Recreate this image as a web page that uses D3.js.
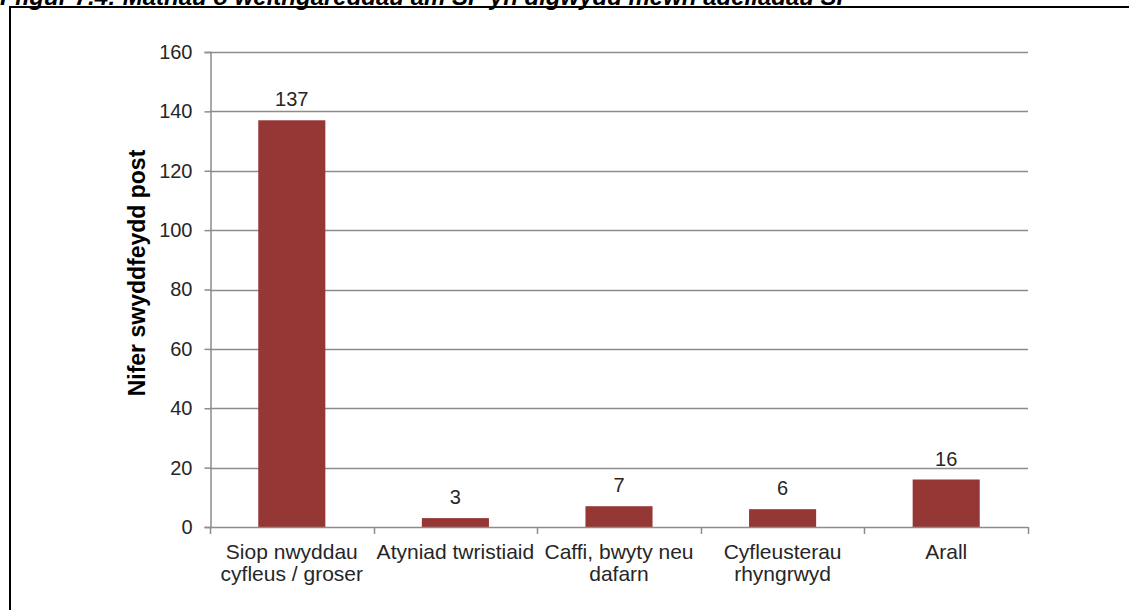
<!DOCTYPE html>
<html>
<head>
<meta charset="utf-8">
<script src="https://cdn.jsdelivr.net/npm/d3@7"></script>
<style>
  html, body { margin: 0; padding: 0; background: #fff; overflow: hidden; }
  svg { display: block; }
  text { font-family: "Liberation Sans", Arial, sans-serif; }
</style>
</head>
<body>
<svg id="chart" width="1129" height="610"></svg>
<script>
// ---- data ----
const titleText = "Ffigur 7.4: Mathau o weithgareddau am SP yn digwydd mewn adeiladau SP";
const yAxisTitle = "Nifer swyddfeydd post";
const categories = [
  ["Siop nwyddau", "cyfleus / groser"],
  ["Atyniad twristiaid"],
  ["Caffi, bwyty neu", "dafarn"],
  ["Cyfleusterau", "rhyngrwyd"],
  ["Arall"]
];
const values = [137, 3, 7, 6, 16];
const yTicks = [0, 20, 40, 60, 80, 100, 120, 140, 160];

// ---- layout ----
const svg = d3.select("#chart");
const plot = { left: 210, right: 1028, top: 52, bottom: 527 };
const barColor = "#953735";
const gridColor = "#8c8c8c";
const textColor = "#262626";

const keys = categories.map((c, i) => i);
const x = d3.scaleBand().domain(keys).range([plot.left, plot.right])
  .paddingInner(0.59).paddingOuter(0.295);
const step = x.step();
const y = d3.scaleLinear().domain([0, 160]).range([plot.bottom, plot.top]);

// frame + title (clipped at top, as in the source)
svg.append("text")
  .attr("x", 0).attr("y", 5)
  .attr("font-size", 24).attr("font-weight", "bold").attr("font-style", "italic")
  .attr("fill", "#000")
  .text(titleText);
svg.append("path")
  .attr("d", `M10,612 L10,7 L1129,7`)
  .attr("fill", "none").attr("stroke", "#000").attr("stroke-width", 2);

// gridlines
svg.append("g").selectAll("line").data(yTicks.filter(t => t > 0)).join("line")
  .attr("x1", plot.left).attr("x2", plot.right)
  .attr("y1", d => Math.round(y(d)) + 0.5).attr("y2", d => Math.round(y(d)) + 0.5)
  .attr("stroke", gridColor).attr("stroke-width", 1.5);

// y axis
const yAxis = d3.axisLeft(y).tickValues(yTicks).tickSize(6).tickPadding(12).tickFormat(d3.format("d"));
const gy = svg.append("g").attr("transform", `translate(${plot.left + 0.5},0)`).call(yAxis);
gy.select(".domain").attr("stroke", gridColor).attr("stroke-width", 1.5);
gy.selectAll(".tick line").attr("stroke", gridColor).attr("stroke-width", 1.5);
gy.selectAll(".tick text").attr("font-size", 20).attr("fill", textColor)
  .attr("font-family", "'Liberation Sans', Arial, sans-serif");

// bars
svg.append("g").selectAll("rect").data(values).join("rect")
  .attr("x", (d, i) => x(i))
  .attr("width", x.bandwidth())
  .attr("y", d => y(d))
  .attr("height", d => y(0) - y(d))
  .attr("fill", barColor);

// value labels
svg.append("g").selectAll("text").data(values).join("text")
  .attr("x", (d, i) => x(i) + x.bandwidth() / 2)
  .attr("y", d => y(d) - 14)
  .attr("text-anchor", "middle")
  .attr("font-size", 20).attr("fill", textColor)
  .text(d => d);

// x axis line + boundary ticks
const xAxisG = svg.append("g");
xAxisG.append("line")
  .attr("x1", plot.left).attr("x2", plot.right)
  .attr("y1", y(0) + 0.5).attr("y2", y(0) + 0.5)
  .attr("stroke", gridColor).attr("stroke-width", 1.5);
const boundaries = keys.map(i => x(i) - (step - x.bandwidth()) / 2).concat([plot.right]);
xAxisG.selectAll("line.b").data(boundaries).join("line").attr("class", "b")
  .attr("x1", d => Math.round(d) + 0.5).attr("x2", d => Math.round(d) + 0.5)
  .attr("y1", y(0)).attr("y2", y(0) + 7)
  .attr("stroke", gridColor).attr("stroke-width", 1.5);

// category labels
const lab = svg.append("g").selectAll("text").data(categories).join("text")
  .attr("text-anchor", "middle")
  .attr("font-size", 21).attr("fill", textColor)
  .attr("transform", (d, i) => `translate(${x(i) + x.bandwidth() / 2},0)`);
lab.selectAll("tspan").data(d => d).join("tspan")
  .attr("x", 0)
  .attr("y", (d, j) => 559 + j * 22)
  .text(d => d);

// y axis title
svg.append("text")
  .attr("transform", `translate(145,273) rotate(-90)`)
  .attr("text-anchor", "middle")
  .attr("font-size", 23).attr("font-weight", "bold").attr("fill", "#000")
  .text(yAxisTitle);
</script>
</body>
</html>
